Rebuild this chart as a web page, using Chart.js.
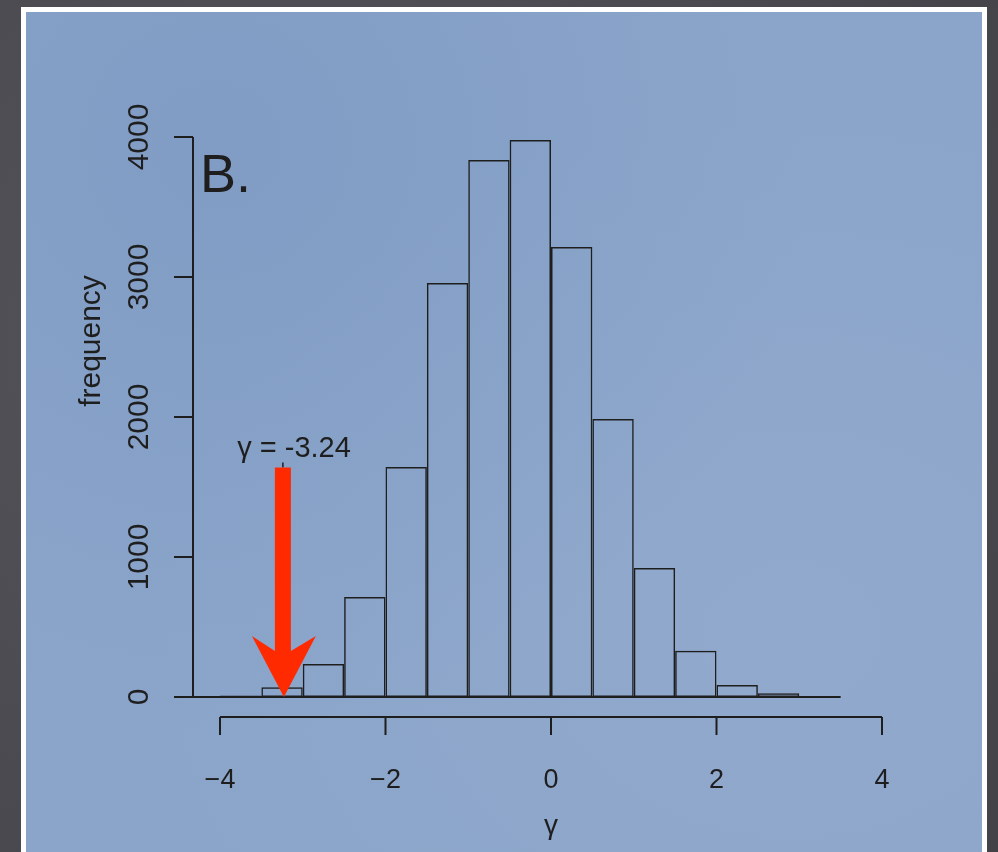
<!DOCTYPE html>
<html lang="en">
<head>
  <meta charset="UTF-8">
  <title>Gamma histogram</title>
  <script src="https://cdn.jsdelivr.net/npm/chart.js"></script>
  <style>
    html, body {
      margin: 0;
      padding: 0;
      width: 998px;
      height: 852px;
      overflow: hidden;
      background: radial-gradient(circle at 30% 40%, #56565c 0%, #4a4a50 60%, #424247 100%);
      font-family: "Liberation Sans", Arial, sans-serif;
    }
    .panel {
      position: absolute;
      left: 21px;
      top: 7px;
      width: 966px;
      height: 900px;
      box-sizing: border-box;
      border: 5px solid #ffffff;
      background:
        radial-gradient(ellipse at 20% 15%, rgba(110,140,185,0.35) 0%, rgba(110,140,185,0) 55%),
        radial-gradient(ellipse at 80% 70%, rgba(160,180,210,0.25) 0%, rgba(160,180,210,0) 60%),
        #8ba5ca;
    }
    #chart {
      position: absolute;
      left: 0;
      top: 0;
    }
  </style>
</head>
<body>
  <div class="panel"></div>
  <canvas id="chart" width="998" height="852"></canvas>

<script>
  // histogram bins (width 0.5)
  const binStarts = [-4.5, -4, -3.5, -3, -2.5, -2, -1.5, -1, -0.5, 0, 0.5, 1, 1.5, 2, 2.5, 3];
  const counts    = [0, 10, 70, 236, 714, 1643, 2957, 3836, 3979, 3214, 1986, 921, 330, 86, 26, 3];
  const binWidth = 0.5;

  const xTicks = [-4, -2, 0, 2, 4];
  const yTicks = [0, 1000, 2000, 3000, 4000];

  const observed = -3.24;      // the arrow
  const arrowFrom = 1640;      // arrow starts at this frequency
  const obsLabel = 'γ = -3.24';

  const ink = '#1e1e1e';
  const fontFam = '"Liberation Sans", Arial, sans-serif';

  // R-style axes, baseline, labels and arrow
  const rStyle = {
    id: 'rStyle',
    afterDraw(chart) {
      const ctx = chart.ctx;
      const xs = chart.scales.x, ys = chart.scales.y;
      ctx.save();
      ctx.strokeStyle = ink;
      ctx.fillStyle = ink;
      ctx.lineWidth = 2;

      // baseline under the bins
      const y0 = ys.getPixelForValue(0);
      ctx.beginPath();
      ctx.moveTo(xs.getPixelForValue(binStarts[0]), y0);
      ctx.lineTo(xs.getPixelForValue(binStarts[binStarts.length - 1] + binWidth), y0);
      ctx.stroke();

      // x axis
      const xa = 717;
      ctx.beginPath();
      ctx.moveTo(xs.getPixelForValue(xTicks[0]), xa);
      ctx.lineTo(xs.getPixelForValue(xTicks[xTicks.length - 1]), xa);
      xTicks.forEach(t => {
        const px = xs.getPixelForValue(t);
        ctx.moveTo(px, xa);
        ctx.lineTo(px, xa + 18);
      });
      ctx.stroke();
      ctx.font = '27px ' + fontFam;
      ctx.textAlign = 'center';
      ctx.textBaseline = 'alphabetic';
      xTicks.forEach(t => {
        const s = t < 0 ? '\u2212' + Math.abs(t) : String(t);
        ctx.fillText(s, xs.getPixelForValue(t), 788);
      });
      ctx.font = '28px ' + fontFam;
      ctx.fillText('γ', xs.getPixelForValue(0), 834);

      // y axis
      const ya = 193;
      ctx.beginPath();
      ctx.moveTo(ya, ys.getPixelForValue(yTicks[0]));
      ctx.lineTo(ya, ys.getPixelForValue(yTicks[yTicks.length - 1]));
      yTicks.forEach(t => {
        const py = ys.getPixelForValue(t);
        ctx.moveTo(ya, py);
        ctx.lineTo(ya - 19, py);
      });
      ctx.stroke();
      ctx.font = '30px ' + fontFam;
      yTicks.forEach(t => {
        ctx.save();
        ctx.translate(148, ys.getPixelForValue(t));
        ctx.rotate(-Math.PI / 2);
        ctx.fillText(String(t), 0, 0);
        ctx.restore();
      });
      ctx.save();
      ctx.font = '30px ' + fontFam;
      ctx.translate(100, 341);
      ctx.rotate(-Math.PI / 2);
      ctx.fillText('frequency', 0, 0);
      ctx.restore();

      // panel letter
      ctx.textAlign = 'left';
      ctx.font = '54px ' + fontFam;
      ctx.fillText('B.', 200, 192);

      // observed value label
      const ax = xs.getPixelForValue(observed);
      ctx.font = '29px ' + fontFam;
      ctx.textAlign = 'center';
      ctx.fillText(obsLabel, 294, 457);

      // red arrow
      const top = ys.getPixelForValue(arrowFrom);
      const tip = y0;
      ctx.lineWidth = 1.5;
      ctx.beginPath();
      ctx.moveTo(ax, top - 5);
      ctx.lineTo(ax, top);
      ctx.stroke();
      ctx.fillStyle = '#ff2a00';
      ctx.beginPath();
      ctx.moveTo(ax - 8, top);
      ctx.lineTo(ax + 8, top);
      ctx.lineTo(ax + 8, tip - 46);
      ctx.lineTo(ax + 33, tip - 61);
      ctx.lineTo(ax + 1, tip);
      ctx.lineTo(ax - 31, tip - 61);
      ctx.lineTo(ax - 8, tip - 46);
      ctx.closePath();
      ctx.fill();

      ctx.restore();
    }
  };

  new Chart(document.getElementById('chart').getContext('2d'), {
    type: 'bar',
    data: {
      datasets: [{
        data: binStarts.map((b, i) => ({ x: b + binWidth / 2, y: counts[i] })),
        backgroundColor: 'rgba(0,0,0,0)',
        borderColor: ink,
        borderWidth: 1.5,
        borderSkipped: false,
        inflateAmount: 0,
        barPercentage: 1,
        categoryPercentage: 1
      }]
    },
    options: {
      responsive: false,
      animation: false,
      layout: {
        padding: { left: 170.35, right: 116, top: 137, bottom: 155 }
      },
      scales: {
        x: { type: 'linear', min: -4.6, max: 4, offset: false, display: false },
        y: { min: 0, max: 4000, display: false }
      },
      plugins: {
        legend: { display: false },
        tooltip: { enabled: false }
      }
    },
    plugins: [rStyle]
  });
</script>
</body>
</html>
